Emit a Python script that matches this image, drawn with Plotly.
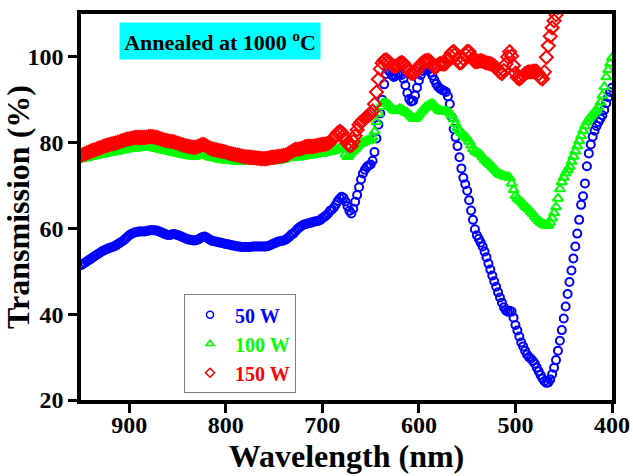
import plotly.graph_objects as go

# Wavelength grid (nm), 950 down to 400 in 2 nm steps
wavelength = list(range(950, 398, -2))

# Transmission (%) for the three sputtering powers
t_50w = [
    51.4, 51.7, 52.0, 52.3, 52.6, 52.9, 53.2, 53.5, 53.8, 54.1,
    54.4, 54.7, 54.9, 55.1, 55.3, 55.5, 55.6, 55.8, 56.0, 56.3,
    56.6, 56.9, 57.2, 57.6, 58.0, 58.4, 58.7, 58.9, 59.1, 59.2,
    59.3, 59.3, 59.3, 59.3, 59.4, 59.5, 59.6, 59.6, 59.6, 59.5,
    59.4, 59.2, 59.0, 58.8, 58.6, 58.5, 58.5, 58.6, 58.7, 58.6,
    58.5, 58.3, 58.1, 57.9, 57.7, 57.5, 57.4, 57.3, 57.2, 57.2,
    57.3, 57.5, 57.8, 58.0, 58.1, 57.9, 57.6, 57.3, 57.1, 57.0,
    56.9, 56.8, 56.7, 56.6, 56.5, 56.4, 56.3, 56.2, 56.1, 56.0,
    55.9, 55.8, 55.8, 55.7, 55.7, 55.7, 55.7, 55.7, 55.7, 55.8,
    55.8, 55.8, 55.8, 55.8, 55.8, 55.8, 55.8, 55.9, 56.1, 56.3,
    56.5, 56.7, 56.9, 57.0, 57.1, 57.2, 57.4, 57.7, 58.1, 58.6,
    58.8, 59.3, 59.8, 60.2, 60.5, 60.8, 61.0, 61.1, 61.2, 61.3,
    61.5, 61.6, 61.7, 61.8, 62.0, 62.4, 62.7, 63.0, 63.5, 64.1,
    64.4, 64.9, 65.6, 66.4, 67.0, 67.4, 67.1, 66.3, 65.2, 64.1,
    63.5, 64.6, 66.2, 67.8, 69.6, 71.4, 72.8, 73.7, 74.3, 74.7,
    74.9, 75.8, 77.8, 81.0, 84.2, 86.8, 90.0, 93.6, 96.0, 97.0,
    96.5, 95.7, 95.3, 95.6, 96.0, 96.1, 95.8, 94.9, 93.4, 91.6,
    90.2, 89.6, 89.8, 91.0, 92.8, 94.5, 95.8, 96.7, 97.2, 97.2,
    97.0, 96.4, 95.6, 94.6, 93.7, 93.0, 92.6, 92.3, 92.1, 91.8,
    90.8, 89.0, 86.0, 83.2, 81.3, 79.2, 76.6, 74.0, 71.8, 70.3,
    68.8, 66.6, 64.2, 62.0, 59.8, 58.4, 57.6, 56.7, 55.8, 54.6,
    53.3, 51.8, 50.4, 49.0, 47.7, 46.4, 45.1, 43.9, 42.7, 41.6,
    40.9, 40.6, 40.8, 40.6, 39.2, 37.5, 36.2, 34.8, 33.4, 32.5,
    31.5, 30.6, 30.0, 29.6, 29.1, 28.5, 27.6, 26.7, 25.8, 25.0,
    24.4, 24.0, 24.1, 24.8, 26.0, 27.5, 29.3, 31.5, 33.8, 36.3,
    39.0, 41.8, 44.7, 47.5, 50.2, 53.0, 55.8, 58.8, 62.0, 65.5,
    67.5, 70.5, 74.5, 77.5, 79.6, 81.4, 82.8, 83.9, 84.8, 85.6,
    86.4, 87.6, 89.2, 90.6, 91.8, 92.8,
]

t_100w = [
    76.2, 76.3, 76.4, 76.5, 76.6, 76.7, 76.8, 76.9, 77.0, 77.1,
    77.2, 77.3, 77.4, 77.5, 77.6, 77.7, 77.7, 77.8, 77.9, 78.0,
    78.1, 78.2, 78.3, 78.4, 78.5, 78.5, 78.6, 78.6, 78.7, 78.7,
    78.8, 78.8, 78.9, 78.9, 78.9, 78.9, 78.8, 78.8, 78.7, 78.6,
    78.5, 78.4, 78.3, 78.2, 78.1, 78.0, 77.9, 77.8, 77.7, 77.6,
    77.5, 77.4, 77.3, 77.2, 77.1, 77.0, 76.9, 76.9, 76.8, 76.8,
    76.9, 77.1, 77.3, 77.4, 77.3, 77.0, 76.8, 76.6, 76.5, 76.4,
    76.3, 76.2, 76.1, 76.0, 75.9, 75.9, 75.8, 75.8, 75.7, 75.7,
    75.7, 75.6, 75.6, 75.6, 75.6, 75.6, 75.6, 75.6, 75.6, 75.6,
    75.6, 75.6, 75.6, 75.6, 75.6, 75.6, 75.6, 75.6, 75.7, 75.7,
    75.7, 75.8, 75.8, 75.9, 76.0, 76.1, 76.3, 76.5, 76.6, 76.6,
    76.6, 76.6, 76.6, 76.6, 76.7, 76.8, 76.9, 77.0, 77.0, 77.1,
    77.1, 77.2, 77.3, 77.4, 77.4, 77.5, 77.6, 77.7, 77.8, 77.9,
    78.0, 78.1, 78.3, 78.5, 78.8, 79.0, 78.4, 77.3, 76.7, 77.2,
    77.8, 78.2, 78.6, 79.1, 79.6, 79.8, 80.0, 80.2, 80.4, 80.5,
    80.6, 81.2, 82.6, 84.8, 86.8, 88.4, 89.1, 89.3, 89.2, 88.9,
    88.5, 88.0, 87.6, 87.4, 87.6, 87.9, 87.8, 87.4, 87.1, 87.0,
    86.6, 86.1, 85.7, 85.6, 85.9, 86.5, 87.1, 87.6, 88.1, 88.4,
    88.7, 88.9, 89.0, 88.7, 88.2, 87.7, 87.4, 87.3, 87.3, 87.3,
    87.2, 86.9, 86.3, 85.5, 84.4, 83.5, 82.8, 82.3, 81.8, 81.4,
    81.0, 80.3, 79.4, 78.6, 78.0, 77.7, 77.5, 77.2, 76.6, 76.0,
    75.6, 75.2, 74.8, 74.4, 73.9, 73.4, 72.9, 72.6, 72.4, 72.2,
    72.0, 72.1, 71.8, 70.5, 69.0, 67.6, 67.0, 66.6, 66.2, 65.7,
    65.2, 64.8, 64.4, 63.9, 63.4, 62.8, 62.3, 61.8, 61.4, 61.1,
    60.8, 60.6, 60.7, 61.4, 62.4, 63.6, 65.0, 67.0, 69.2, 70.8,
    71.9, 72.9, 73.7, 74.4, 75.6, 76.8, 78.0, 79.2, 80.4, 81.6,
    82.8, 83.9, 84.8, 85.5, 86.1, 86.6, 87.1, 87.6, 88.3, 89.4,
    91.0, 93.0, 95.3, 97.0, 98.5, 99.8,
]

# The 150 W curve rises past the top of the axis below ~458 nm
t_150w = [
    77.0, 77.2, 77.4, 77.6, 77.8, 78.0, 78.2, 78.3, 78.5, 78.7,
    78.8, 79.0, 79.2, 79.3, 79.5, 79.6, 79.7, 79.8, 79.9, 80.1,
    80.2, 80.4, 80.5, 80.7, 80.8, 80.9, 81.0, 81.1, 81.2, 81.2,
    81.2, 81.2, 81.2, 81.2, 81.3, 81.4, 81.4, 81.4, 81.3, 81.2,
    81.1, 80.9, 80.8, 80.6, 80.5, 80.4, 80.3, 80.3, 80.2, 80.0,
    79.9, 79.7, 79.6, 79.4, 79.3, 79.2, 79.1, 79.0, 78.9, 78.9,
    79.0, 79.2, 79.4, 79.6, 79.5, 79.2, 78.9, 78.7, 78.5, 78.4,
    78.3, 78.2, 78.1, 78.0, 77.9, 77.8, 77.6, 77.5, 77.4, 77.3,
    77.2, 77.1, 77.0, 76.9, 76.8, 76.7, 76.7, 76.6, 76.6, 76.5,
    76.5, 76.4, 76.4, 76.3, 76.3, 76.3, 76.3, 76.4, 76.5, 76.6,
    76.6, 76.7, 76.8, 76.8, 76.9, 77.0, 77.1, 77.3, 77.6, 77.9,
    78.2, 78.4, 78.5, 78.5, 78.6, 78.8, 79.0, 79.1, 79.1, 79.1,
    79.1, 79.2, 79.3, 79.4, 79.5, 79.6, 79.6, 79.7, 79.9, 80.2,
    80.6, 81.1, 81.7, 82.3, 82.6, 82.4, 81.6, 80.6, 79.8, 79.3,
    79.3, 80.3, 81.6, 83.0, 84.2, 84.8, 85.2, 85.6, 86.0, 86.3,
    86.7, 87.4, 89.0, 91.8, 94.8, 97.2, 98.6, 99.2, 99.3, 99.0,
    98.6, 98.1, 97.8, 97.8, 98.1, 98.5, 98.7, 98.5, 97.9, 97.2,
    96.6, 96.2, 96.1, 96.4, 97.0, 97.7, 98.3, 98.7, 99.0, 99.1,
    99.2, 98.9, 98.2, 97.6, 97.7, 98.2, 98.5, 98.4, 98.3, 98.5,
    99.3, 100.3, 101.0, 101.3, 100.7, 99.6, 98.6, 98.6, 99.6, 100.7,
    101.3, 101.2, 100.3, 99.3, 98.9, 98.9, 99.0, 99.1, 99.0, 98.8,
    98.6, 98.5, 98.4, 98.2, 97.9, 97.5, 97.0, 96.4, 96.1, 96.8,
    98.3, 100.0, 101.2, 100.2, 98.0, 96.2, 95.2, 94.9, 95.2, 95.7,
    96.1, 96.4, 96.5, 96.5, 96.6, 96.7, 96.6, 96.0, 95.1, 94.9,
    96.5, 99.9, 102.6, 104.8, 106.8, 108.4, 109.8, 111.5,
]

series_names = ["50 W", "100 W", "150 W"]
series_colors = ["#0000FF", "#00FF00", "#FF0000"]
series_symbols = ["circle-open", "triangle-up-open", "diamond-open"]
series_sizes = [8, 9, 10]
series_values = [t_50w, t_100w, t_150w]

x_ticks = [900, 800, 700, 600, 500, 400]
y_ticks = [20, 40, 60, 80, 100]

FONT = "Liberation Serif"

fig = go.Figure()
for name, color, symbol, size, values in zip(
    series_names, series_colors, series_symbols, series_sizes, series_values
):
    # data markers
    fig.add_trace(
        go.Scatter(
            x=wavelength[: len(values)],
            y=values,
            mode="markers",
            showlegend=False,
            marker=dict(
                symbol=symbol,
                size=size,
                color=color,
                line=dict(width=2, color=color),
            ),
        )
    )
    # legend entry with a smaller symbol and coloured label
    fig.add_trace(
        go.Scatter(
            x=[None],
            y=[None],
            mode="markers",
            name=f'<span style="color:{color}">{name}</span>',
            marker=dict(
                symbol=symbol,
                size=7,
                color=color,
                line=dict(width=1.5, color=color),
            ),
        )
    )

axis_common = dict(
    showline=True,
    linecolor="black",
    linewidth=3.5,
    mirror=True,
    ticks="outside",
    ticklen=9,
    tickwidth=3,
    tickcolor="black",
    showgrid=False,
    zeroline=False,
    tickfont=dict(family=FONT, size=24, color="black", weight="bold"),
)

fig.update_xaxes(
    range=[950, 400],
    tickvals=x_ticks,
    ticktext=[str(v) for v in x_ticks],
    ticklabelstandoff=-9,
    title=dict(
        text="Wavelength (nm)",
        font=dict(family=FONT, size=32, color="black", weight="bold"),
        standoff=5,
    ),
    **axis_common,
)
fig.update_yaxes(
    range=[20, 110],
    tickvals=y_ticks,
    ticktext=[str(v) for v in y_ticks],
    title=dict(
        text="Transmission (%)",
        font=dict(family=FONT, size=32, color="black", weight="bold"),
        standoff=1,
    ),
    **axis_common,
)

fig.add_annotation(
    xref="paper",
    yref="paper",
    x=0.2618,
    y=0.930,
    xanchor="center",
    yanchor="middle",
    text="Annealed at 1000 <sup>o</sup>C",
    showarrow=False,
    bgcolor="#00FFFF",
    width=200,
    height=36,
    borderpad=0,
    font=dict(family=FONT, size=22, color="black", weight="bold"),
)

fig.update_layout(
    width=633,
    height=476,
    margin=dict(l=81, r=21, t=14, b=76, autoexpand=False),
    paper_bgcolor="white",
    plot_bgcolor="white",
    showlegend=True,
    legend=dict(
        x=0.194,
        y=0.274,
        xanchor="left",
        yanchor="top",
        bgcolor="white",
        bordercolor="#808080",
        borderwidth=1,
        font=dict(family=FONT, size=20, weight="bold"),
        itemsizing="trace",
        itemwidth=40,
    ),
)

fig.write_html("out.html")
